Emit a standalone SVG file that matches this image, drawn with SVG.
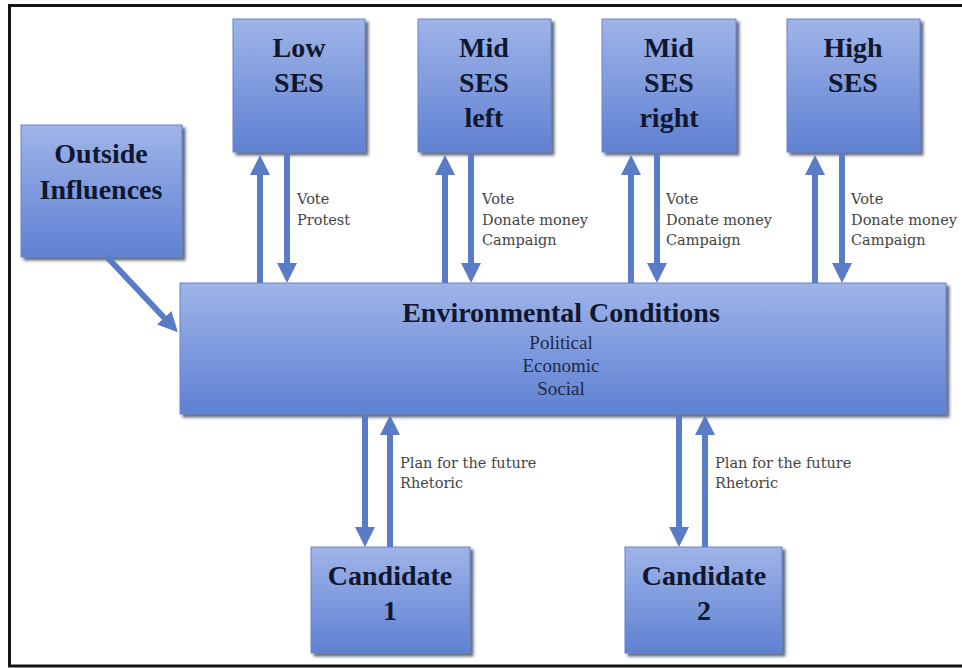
<svg xmlns="http://www.w3.org/2000/svg" width="962" height="668" viewBox="0 0 962 668">
<defs>
<linearGradient id="g" x1="0" y1="0" x2="0" y2="1">
<stop offset="0" stop-color="#9fb4e8"/>
<stop offset="1" stop-color="#5f81d3"/>
</linearGradient>
<filter id="sh" x="-10%" y="-10%" width="130%" height="130%">
<feDropShadow dx="3" dy="3" stdDeviation="1.8" flood-color="#2a3550" flood-opacity="0.75"/>
</filter>
<marker id="ah" viewBox="0 0 20 20" markerWidth="20" markerHeight="20" refX="10" refY="10" orient="auto" markerUnits="userSpaceOnUse">
<path d="M0,0 L20,10 L0,20 z" fill="#5a7bc6"/>
</marker>
<style>
.box{fill:url(#g);stroke:#6784c8;stroke-width:1;filter:url(#sh)}
.t{font-family:"Liberation Serif","Times New Roman",serif;font-weight:bold;font-size:28px;fill:#10172e;text-anchor:middle}
.s{font-family:"Liberation Serif","Times New Roman",serif;font-size:19px;fill:#1e2a4a;text-anchor:middle}
.l{font-family:"DejaVu Serif",serif;font-size:14.5px;fill:#444444}
.c line{stroke:#5a7bc6;stroke-width:6;marker-end:url(#ah)}
.f{stroke:#151515;stroke-width:3;fill:none}
</style>
</defs>
<rect width="962" height="668" fill="#ffffff"/>
<path class="f" d="M962,5.5 H9.5 V666 H962"/>

<g id="low-ses">
<rect class="box" x="233" y="19" width="132" height="133"/>
<text class="t" x="299" y="57">Low</text>
<text class="t" x="299" y="92">SES</text>
</g>
<g id="mid-ses-left">
<rect class="box" x="418" y="19" width="133" height="133"/>
<text class="t" x="484" y="57">Mid</text>
<text class="t" x="484" y="92">SES</text>
<text class="t" x="484" y="127">left</text>
</g>
<g id="mid-ses-right">
<rect class="box" x="602" y="19" width="134" height="133"/>
<text class="t" x="669" y="57">Mid</text>
<text class="t" x="669" y="92">SES</text>
<text class="t" x="669" y="127">right</text>
</g>
<g id="high-ses">
<rect class="box" x="787" y="19" width="133" height="133"/>
<text class="t" x="853" y="57">High</text>
<text class="t" x="853" y="92">SES</text>
</g>
<g id="outside-influences">
<rect class="box" x="21" y="125" width="161" height="132"/>
<text class="t" x="101" y="163">Outside</text>
<text class="t" x="101" y="199">Influences</text>
</g>
<g id="environmental-conditions">
<rect class="box" x="180" y="283" width="766" height="131"/>
<text class="t" x="561" y="322">Environmental Conditions</text>
<text class="s" x="561" y="349">Political</text>
<text class="s" x="561" y="372">Economic</text>
<text class="s" x="561" y="395">Social</text>
</g>
<g id="candidate-1">
<rect class="box" x="311" y="547" width="159" height="106"/>
<text class="t" x="390" y="585">Candidate</text>
<text class="t" x="390" y="620">1</text>
</g>
<g id="candidate-2">
<rect class="box" x="625" y="547" width="157" height="106"/>
<text class="t" x="704" y="585">Candidate</text>
<text class="t" x="704" y="620">2</text>
</g>

<g id="connectors" class="c">
<line x1="107" y1="257" x2="171" y2="325"/>
<line x1="260" y1="283" x2="260" y2="165"/>
<line x1="287" y1="153" x2="287" y2="273"/>
<line x1="445" y1="283" x2="445" y2="165"/>
<line x1="471" y1="153" x2="471" y2="273"/>
<line x1="631" y1="283" x2="631" y2="165"/>
<line x1="657" y1="153" x2="657" y2="273"/>
<line x1="815" y1="283" x2="815" y2="165"/>
<line x1="842" y1="153" x2="842" y2="273"/>
<line x1="365" y1="415" x2="365" y2="537"/>
<line x1="390" y1="547" x2="390" y2="425"/>
<line x1="679" y1="415" x2="679" y2="537"/>
<line x1="705" y1="547" x2="705" y2="425"/>
</g>

<g id="labels">
<text class="l" x="297" y="204">Vote</text>
<text class="l" x="297" y="225">Protest</text>
<text class="l" x="482" y="204">Vote</text>
<text class="l" x="482" y="225">Donate money</text>
<text class="l" x="482" y="245">Campaign</text>
<text class="l" x="666" y="204">Vote</text>
<text class="l" x="666" y="225">Donate money</text>
<text class="l" x="666" y="245">Campaign</text>
<text class="l" x="851" y="204">Vote</text>
<text class="l" x="851" y="225">Donate money</text>
<text class="l" x="851" y="245">Campaign</text>
<text class="l" x="400" y="468">Plan for the future</text>
<text class="l" x="400" y="488">Rhetoric</text>
<text class="l" x="715" y="468">Plan for the future</text>
<text class="l" x="715" y="488">Rhetoric</text>
</g>
</svg>
